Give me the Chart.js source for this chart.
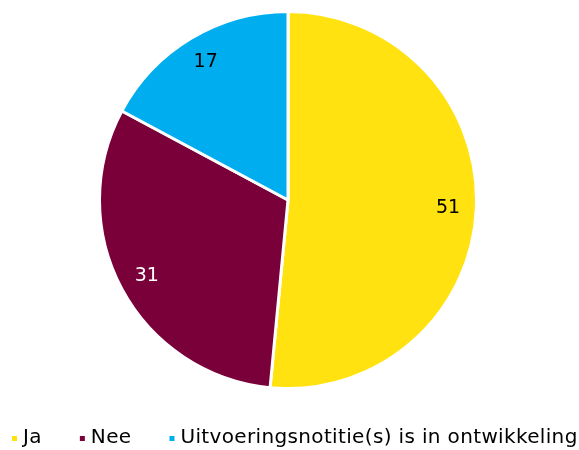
<!DOCTYPE html>
<html>
<head>
<meta charset="utf-8">
<script src="https://cdn.jsdelivr.net/npm/chart.js@4"></script>
<style>
  html, body { margin: 0; padding: 0; background: #fff; }
  #wrap { width: 579px; height: 450px; }
</style>
</head>
<body>
<div id="wrap"><canvas id="pieChart"></canvas></div>
<script>
  const categories = ['Ja', 'Nee', 'Uitvoeringsnotitie(s) is in ontwikkeling'];
  const values = [51, 31, 17];
  const colors = ['#FFE20F', '#7A0039', '#00AEEF'];
  const labelColors = ['#000000', '#FFFFFF', '#000000'];

  // draws the value inside each slice
  const sliceLabels = {
    id: 'sliceLabels',
    afterDatasetsDraw(chart) {
      const ctx = chart.ctx;
      const meta = chart.getDatasetMeta(0);
      ctx.save();
      ctx.font = '19px "DejaVu Sans"';
      ctx.textAlign = 'center';
      ctx.textBaseline = 'middle';
      meta.data.forEach((arc, i) => {
        const p = arc.getProps(['x', 'y', 'startAngle', 'endAngle', 'outerRadius']);
        const mid = (p.startAngle + p.endAngle) / 2;
        const r = p.outerRadius * 0.85;
        ctx.fillStyle = labelColors[i];
        ctx.fillText(values[i], p.x + Math.cos(mid) * r, p.y + Math.sin(mid) * r);
      });
      ctx.restore();
    }
  };

  // small square markers, legend along the bottom from the left
  const bottomLegend = {
    id: 'bottomLegend',
    afterDraw(chart) {
      const ctx = chart.ctx;
      const y = chart.height - 12;
      let x = 12;
      ctx.save();
      ctx.font = '20px "DejaVu Sans"';
      ctx.letterSpacing = '0.35px';
      ctx.textBaseline = 'middle';
      ctx.textAlign = 'left';
      categories.forEach((name, i) => {
        ctx.fillStyle = colors[i];
        ctx.fillRect(x, y - 2, 5, 5);
        x += 11;
        ctx.fillStyle = '#000';
        ctx.fillText(name, x, y);
        x += ctx.measureText(name).width + 38;
      });
      ctx.restore();
    }
  };

  const ctx = document.getElementById('pieChart').getContext('2d');
  const chart = new Chart(ctx, {
    type: 'pie',
    data: {
      labels: categories,
      datasets: [{
        data: values,
        backgroundColor: colors,
        borderColor: '#FFFFFF',
        borderWidth: 3
      }]
    },
    options: {
      responsive: true,
      maintainAspectRatio: false,
      animation: false,
      layout: { padding: { top: 10, bottom: 60, left: 0, right: 3 } },
      plugins: {
        legend: { display: false },
        tooltip: { enabled: false }
      }
    },
    plugins: [sliceLabels, bottomLegend]
  });
</script>
</body>
</html>
